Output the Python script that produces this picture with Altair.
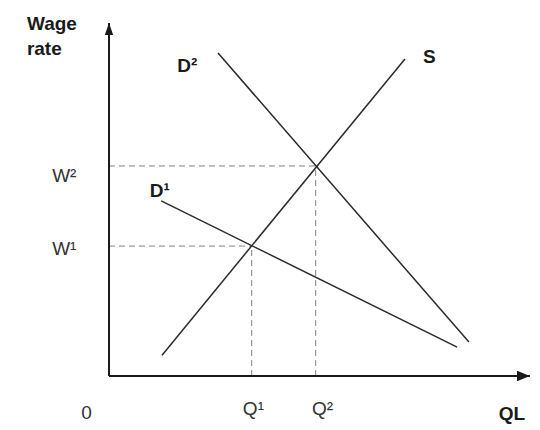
import altair as alt
import pandas as pd

# ---- data (diagram units: quantity of labour 0-100, wage rate 0-100) ----
curve_names = ["S", "D¹", "D²"]
curve_q_start = [12.6, 12.4, 25.9]
curve_w_start = [5.9, 49.6, 91.5]
curve_q_end = [70.3, 82.7, 85.5]
curve_w_end = [89.8, 8.2, 9.6]

eq_names = ["1", "2"]
eq_q = [33.9, 49.1]
eq_w = [36.8, 59.5]

axis_max = 100

# label texts and their anchor points
bold_labels = ["Wage", "rate", "D²", "S", "D¹", "QL"]
bold_q = [-19.5, -19.5, 16.2, 74.6, 9.7, 92.6]
bold_w = [98.0, 90.9, 86.1, 88.7, 50.7, -12.5]

reg_labels = ["W²", "W¹", "0", "Q¹", "Q²"]
reg_q = [-13.5, -13.5, -6.6, 31.8, 48.2]
reg_w = [55.0, 34.3, -12.2, -11.0, -11.0]

# ---- tables ----
curves = pd.DataFrame({"name": curve_names, "x": curve_q_start, "y": curve_w_start,
                       "x2": curve_q_end, "y2": curve_w_end})
dash_h = pd.DataFrame({"x": [0] * len(eq_q), "x2": eq_q, "y": eq_w, "y2": eq_w})
dash_v = pd.DataFrame({"x": eq_q, "x2": eq_q, "y": [0] * len(eq_w), "y2": eq_w})
axes = pd.DataFrame({"x": [0, 0], "x2": [axis_max, 0], "y": [0, 0], "y2": [0, axis_max]})
tip_x = pd.DataFrame({"x": [axis_max], "y": [0]})
tip_y = pd.DataFrame({"x": [0], "y": [axis_max]})
bold_df = pd.DataFrame({"t": bold_labels, "x": bold_q, "y": bold_w})
reg_df = pd.DataFrame({"t": reg_labels, "x": reg_q, "y": reg_w})

xs = alt.Scale(domain=[-23.99, 100.48], nice=False, zero=False)
ys = alt.Scale(domain=[-13.60, 104.25], nice=False, zero=False)

def X(f="x"):
    return alt.X(f"{f}:Q", scale=xs, axis=None)

def Y(f="y"):
    return alt.Y(f"{f}:Q", scale=ys, axis=None)

dash_style = dict(color="#808080", strokeWidth=1, strokeDash=[6, 4])

h_layer = alt.Chart(dash_h).mark_rule(**dash_style).encode(x=X(), x2="x2:Q", y=Y(), y2="y2:Q")
v_layer = alt.Chart(dash_v).mark_rule(**dash_style).encode(x=X(), x2="x2:Q", y=Y(), y2="y2:Q")

curve_layer = alt.Chart(curves).mark_rule(color="#2a2a2a", strokeWidth=1.5).encode(
    x=X(), x2="x2:Q", y=Y(), y2="y2:Q")

axis_layer = alt.Chart(axes).mark_rule(color="#1a1a1a", strokeWidth=2).encode(
    x=X(), x2="x2:Q", y=Y(), y2="y2:Q")

arrow_right = alt.Chart(tip_x).mark_point(
    shape="M-2,-0.8L0,0L-2,0.8Z", size=169, filled=True, color="#1a1a1a", opacity=1, strokeWidth=0
).encode(x=X(), y=Y())
arrow_up = alt.Chart(tip_y).mark_point(
    shape="M-0.7,2L0,0L0.7,2Z", size=144, filled=True, color="#1a1a1a", opacity=1, strokeWidth=0
).encode(x=X(), y=Y())

bold_text = alt.Chart(bold_df).mark_text(
    font="Liberation Sans", fontSize=19, fontWeight="bold", color="#1a1a1a",
    align="left", baseline="alphabetic"
).encode(x=X(), y=Y(), text="t:N")

reg_text = alt.Chart(reg_df).mark_text(
    font="Liberation Sans", fontSize=19, color="#333333",
    align="left", baseline="alphabetic"
).encode(x=X(), y=Y(), text="t:N")

chart = alt.layer(
    h_layer, v_layer, curve_layer, axis_layer, arrow_right, arrow_up, bold_text, reg_text
).properties(
    width=524, height=416, padding=0, autosize=alt.AutoSizeParams(type="none"),
    background="white"
).configure_view(stroke=None)

chart.save("out.html", embed_options={"renderer": "svg", "actions": False})
